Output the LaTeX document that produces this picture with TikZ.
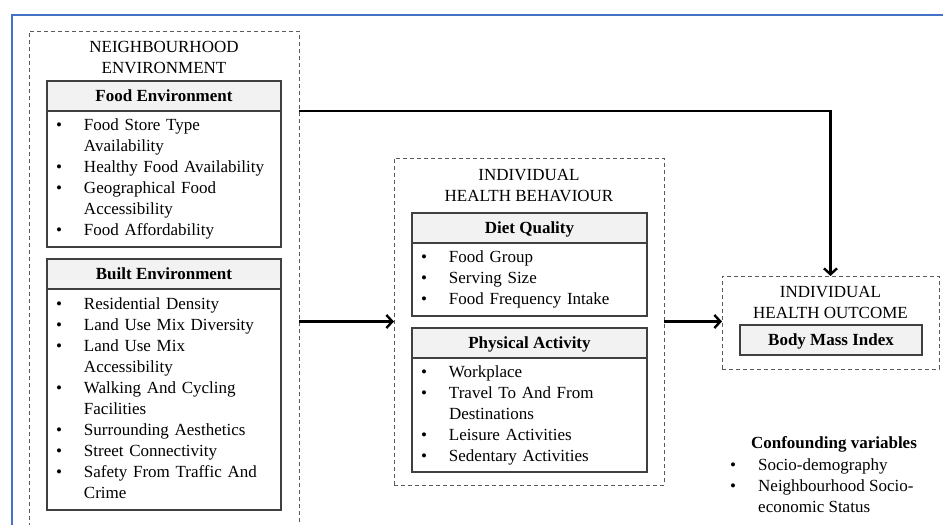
\documentclass[tikz,border=0pt]{standalone}
\usepackage{fontspec}
\setmainfont{Liberation Serif}
\usetikzlibrary{arrows.meta,positioning}
\definecolor{frameblue}{HTML}{4472C4}
\definecolor{boxline}{HTML}{404040}
\definecolor{headfill}{HTML}{F2F2F2}
\definecolor{dashline}{HTML}{5A5A5A}
\newcommand{\itemlist}[1]{\begin{tabular}{@{}p{28pt}@{}l@{}}#1\end{tabular}}
\tikzset{
  group/.style={draw=dashline, line width=1pt, dash pattern=on 4pt off 3pt, inner sep=0pt, outer sep=0pt},
  headbox/.style={draw=boxline, fill=headfill, line width=1.4pt, inner sep=0pt, outer sep=0pt,
    text depth=0pt, font=\fontsize{17}{21}\selectfont\bfseries},
  listbox/.style={draw=boxline, line width=1.4pt, inner xsep=9pt, inner ysep=0pt, outer sep=0pt, align=left},
  link/.style={line width=2.4pt, -{Straight Barb[length=6pt,width=13pt]}},
}

\begin{document}
\begin{tikzpicture}[x=1pt, y=-1pt, font=\fontsize{17}{21}\selectfont]
    \useasboundingbox (0,0) rectangle (943,525);
    \clip (0,0) rectangle (943,525);
    \draw[frameblue, line width=2pt] (12,15) rectangle (980,560);

    % groups
    \node[group, minimum width=270pt, minimum height=529pt] (nbh) at (164,295.5) {};
    \node[group, minimum width=270pt, minimum height=327pt] (beh) at (529,321.5) {};
    \node[group, minimum width=217pt, minimum height=93pt] (out) at (830.5,322.5) {};
    \node[align=center] (nbhtitle) at (164,57.5) {NEIGHBOURHOOD\\ENVIRONMENT};
    \node[align=center] (behtitle) at (529,185.5) {INDIVIDUAL\\HEALTH BEHAVIOUR};
    \node[align=center] (outtitle) at (830.5,302.5) {INDIVIDUAL\\HEALTH OUTCOME};

    % neighbourhood environment
    \node[listbox, text width=216pt, minimum height=136pt] (foodbody) at (164,179) {\itemlist{%
      • & Food Store Type\\ & Availability\\
      • & Healthy Food Availability\\
      • & Geographical Food\\ & Accessibility\\
      • & Food Affordability}};
    \node[headbox, minimum width=234pt, minimum height=30pt, above=0pt of foodbody] (foodhead) {Food Environment};
    \node[listbox, text width=216pt, minimum height=221pt] (builtbody) at (164,399.5) {\itemlist{%
      • & Residential Density\\
      • & Land Use Mix Diversity\\
      • & Land Use Mix\\ & Accessibility\\
      • & Walking And Cycling\\ & Facilities\\
      • & Surrounding Aesthetics\\
      • & Street Connectivity\\
      • & Safety From Traffic And\\ & Crime}};
    \node[headbox, minimum width=234pt, minimum height=30pt, above=0pt of builtbody] (builthead) {Built Environment};

    % health behaviour
    \node[listbox, text width=217pt, minimum height=73pt] (dietbody) at (529.5,279.5) {\itemlist{%
      • & Food Group\\
      • & Serving Size\\
      • & Food Frequency Intake}};
    \node[headbox, minimum width=235pt, minimum height=30pt, above=0pt of dietbody] (diethead) {Diet Quality};
    \node[listbox, text width=217pt, minimum height=114pt] (physbody) at (529.5,415) {\itemlist{%
      • & Workplace\\
      • & Travel To And From\\ & Destinations\\
      • & Leisure Activities\\
      • & Sedentary Activities}};
    \node[headbox, minimum width=235pt, minimum height=30pt, above=0pt of physbody] (physhead) {Physical Activity};

    % health outcome
    \node[headbox, minimum width=182pt, minimum height=30pt] (bmi) at (831,340) {Body Mass Index};

    \node[font=\fontsize{17}{21}\selectfont\bfseries] (conftitle) at (834,444) {Confounding variables};
    \node[anchor=north west, inner sep=0pt] (conflist) at (730,455.5) {\itemlist{%
      • & Socio-demography\\
      • & Neighbourhood Socio-\\ & economic Status}};

    \draw[link] (nbh.east |- foodhead.south) -| (out.north);
    \draw[link] (nbh.east |- beh.west) -- (beh.west);
    \draw[link] (beh.east) -- (out.west |- beh.east);
\end{tikzpicture}
\end{document}
